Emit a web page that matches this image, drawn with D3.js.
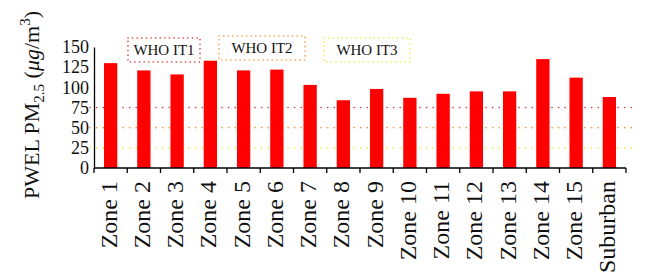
<!DOCTYPE html>
<html>
<head>
<meta charset="utf-8">
<script src="https://cdn.jsdelivr.net/npm/d3@7"></script>
<style>
  body { margin: 0; background: #fff; }
  text { font-family: "Liberation Serif", "DejaVu Serif", serif; }
</style>
</head>
<body>
<div id="chart"></div>
<script>
const zones = ["Zone 1", "Zone 2", "Zone 3", "Zone 4", "Zone 5", "Zone 6", "Zone 7", "Zone 8",
  "Zone 9", "Zone 10", "Zone 11", "Zone 12", "Zone 13", "Zone 14", "Zone 15", "Suburban"];
const pwel = [130, 121, 116, 133, 121, 122, 103, 84, 98, 87, 92, 95, 95, 135, 112, 88];
const yTicks = [0, 25, 50, 75, 100, 125, 150];
const guideNames = ["WHO IT1", "WHO IT2", "WHO IT3"];
const guideValues = [75, 50, 25];
const guideColors = ["#d83a3a", "#f29a3a", "#f2e83a"];

const W = 648, H = 276;
const margin = { top: 47, right: 22, bottom: 108, left: 94 };
const width = W - margin.left - margin.right;
const height = H - margin.top - margin.bottom;

const svg = d3.select("#chart").append("svg")
  .attr("width", W).attr("height", H);
const g = svg.append("g")
  .attr("transform", `translate(${margin.left},${margin.top})`);

const x = d3.scaleBand().domain(zones).range([0, width]).paddingInner(0.6).paddingOuter(0.3);
const y = d3.scaleLinear().domain([0, 150]).range([height, 0]);

// guide lines (WHO interim targets)
guideValues.forEach((v, i) => {
  g.append("line")
    .attr("x1", -4).attr("x2", width + 6)
    .attr("y1", y(v)).attr("y2", y(v))
    .attr("stroke", guideColors[i])
    .attr("stroke-width", 1.6)
    .attr("stroke-linecap", "round")
    .attr("stroke-dasharray", "0.1,6.5");
});

// bars
g.selectAll(".bar")
  .data(zones)
  .enter()
  .append("rect")
  .attr("class", "bar")
  .attr("x", d => x(d))
  .attr("y", (d, i) => y(pwel[i]))
  .attr("width", x.bandwidth())
  .attr("height", (d, i) => y(0) - y(pwel[i]))
  .attr("fill", "#ff0000");

// y axis
const yAxis = g.append("g")
  .call(d3.axisLeft(y).tickValues(yTicks).tickSize(0).tickPadding(5));
yAxis.select(".domain").attr("stroke", "#000").attr("stroke-width", 1.3);
yAxis.selectAll("text").attr("font-size", 18).attr("fill", "#111")
  .attr("font-family", "Liberation Serif");

// x axis with ticks at band edges
const xg = g.append("g").attr("transform", `translate(0,${height})`);
xg.append("line").attr("x1", 0).attr("x2", width).attr("stroke", "#000").attr("stroke-width", 1.3);
const step = x.step();
d3.range(zones.length + 1).forEach(i => {
  xg.append("line")
    .attr("x1", i * step).attr("x2", i * step)
    .attr("y1", 0).attr("y2", 5)
    .attr("stroke", "#000").attr("stroke-width", 1.3);
});
zones.forEach(z => {
  xg.append("text")
    .attr("transform", `translate(${x(z) + x.bandwidth() / 2 + 6},13) rotate(-90)`)
    .attr("text-anchor", "end")
    .attr("font-size", 24)
    .attr("fill", "#111")
    .text(z);
});

// y axis title
const yt = svg.append("text")
  .attr("transform", `translate(39,105) rotate(-90)`)
  .attr("text-anchor", "middle")
  .attr("font-size", 22)
  .attr("fill", "#111");
yt.append("tspan").text("PWEL PM");
yt.append("tspan").attr("font-size", 15).attr("dy", 5).text("2.5");
yt.append("tspan").attr("dy", -5).text(" (");
yt.append("tspan").attr("font-style", "italic").text("\u03bcg");
yt.append("tspan").text("/m");
yt.append("tspan").attr("font-size", 15).attr("dy", -9).text("3");
yt.append("tspan").attr("dy", 9).text(")");

// legend boxes
const legendPos = [{ x: 128, y: 38, w: 72, h: 24 }, { x: 219, y: 36, w: 86, h: 24 }, { x: 324, y: 38, w: 86, h: 24 }];
guideNames.forEach((name, i) => {
  const p = legendPos[i];
  svg.append("rect")
    .attr("x", p.x).attr("y", p.y).attr("width", p.w).attr("height", p.h)
    .attr("fill", "none")
    .attr("stroke", guideColors[i])
    .attr("stroke-width", 1.6)
    .attr("stroke-linecap", "round")
    .attr("stroke-dasharray", "0.1,4.5");
  svg.append("text")
    .attr("x", p.x + p.w / 2).attr("y", p.y + p.h / 2 + 5)
    .attr("text-anchor", "middle")
    .attr("font-size", 15)
    .attr("fill", "#111")
    .text(name);
});
</script>
</body>
</html>
